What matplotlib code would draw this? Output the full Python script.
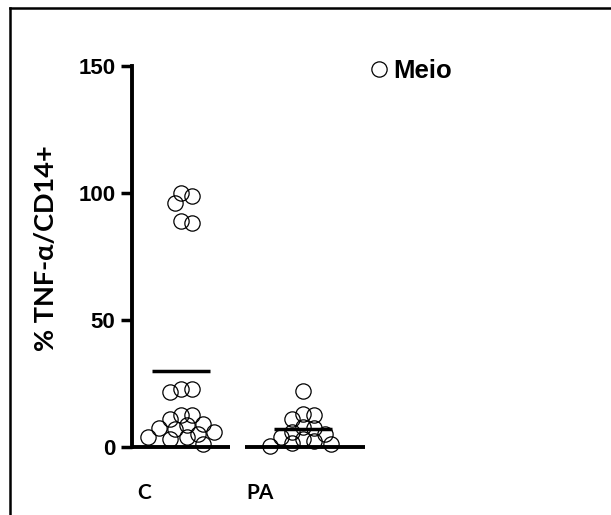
import matplotlib.pyplot as plt
from matplotlib.lines import Line2D
import numpy as np

groups = ['C', 'PA']
c_vals = [100, 99, 96, 89, 88, 23, 23, 21.5, 12.5, 12.5, 11, 9, 8.5, 7.5, 7, 6, 5, 4, 4, 3, 1]
pa_vals = [22, 13, 12.5, 11, 8, 7.5, 6, 5, 4, 3, 2.5, 1.5, 1, 0.5]
yticks = [0, 50, 100, 150]
legend_label = 'Meio'


def swarm(vals, xscale, yscale, diam, overlap=0.7):
    # simple deterministic beeswarm in pixel space, returns x offsets (data units)
    order = np.argsort(vals)[::-1]
    placed = []
    offs = np.zeros(len(vals))
    mind = diam * overlap
    cands = [0]
    for k in range(1, 12):
        cands += [k * 0.37 * diam, -k * 0.37 * diam]
    for i in order:
        y = vals[i] * yscale
        for c in cands:
            if all((c - px) ** 2 + (y - py) ** 2 >= mind ** 2 for px, py in placed):
                break
        placed.append((c, y))
        offs[i] = c / xscale
    return offs


fig = plt.figure(figsize=(6.11, 5.15), dpi=100)
ax = fig.add_axes([132 / 611, 68 / 515, 415 / 611, 381 / 515])
ax.set_xlim(0.598, 4.0)
ax.set_ylim(0, 150)

xs_px = 122.0
ys_px = 381 / 150.0
for gi, vals in enumerate([c_vals, pa_vals]):
    vals = np.array(vals)
    xoff = swarm(vals, xs_px, ys_px, 15)
    ax.plot(gi + 1 + xoff, vals, 'o', ms=11, mfc='none', mec='black', mew=0.9,
            clip_on=False, label=legend_label if gi == 0 else None, zorder=3)
    ax.hlines(vals.mean(), gi + 1 - 0.24, gi + 1 + 0.24, color='black', lw=2.5, zorder=4)

# broken x axis, Prism style
ax.hlines(0, 0.598, 1.40, color='black', lw=2.8, clip_on=False, zorder=2)
ax.hlines(0, 1.525, 2.508, color='black', lw=2.8, clip_on=False, zorder=2)

for s in ['top', 'right', 'bottom']:
    ax.spines[s].set_visible(False)
ax.spines['left'].set_linewidth(2.8)
ax.set_yticks(yticks)
ax.set_yticklabels([str(t) for t in yticks], fontfamily='Liberation Sans',
                   fontweight='bold', fontsize=16)
ax.tick_params(axis='y', length=8, width=2.5, pad=4)
ax.set_xticks([])

label_shift = [-0.3, -0.35]
for gi, g in enumerate(groups):
    ax.text(gi + 1 + label_shift[gi], -18, g, ha='center', va='center', fontsize=15,
            fontweight='bold', fontfamily='Lato', clip_on=False)

ax.set_ylabel('% TNF-α/CD14+', fontsize=19.5, fontweight='bold', fontfamily='Lato')
ax.yaxis.set_label_coords(-0.178, 0.522)

ax.legend(loc='center left', bbox_to_anchor=(366 / 611, 1 - 71 / 515),
          bbox_transform=fig.transFigure, frameon=False, handletextpad=0.05,
          handlelength=1.0, borderpad=0, borderaxespad=0,
          prop={'family': 'Liberation Sans', 'weight': 'bold', 'size': 18.5})

# outer frame
fig.add_artist(Line2D([10 / 611, 1.0], [1 - 8 / 515, 1 - 8 / 515], color='black', lw=1.8))
fig.add_artist(Line2D([10 / 611, 10 / 611], [0, 1 - 8 / 515], color='black', lw=1.8))

fig.savefig('out.png', dpi=100)
